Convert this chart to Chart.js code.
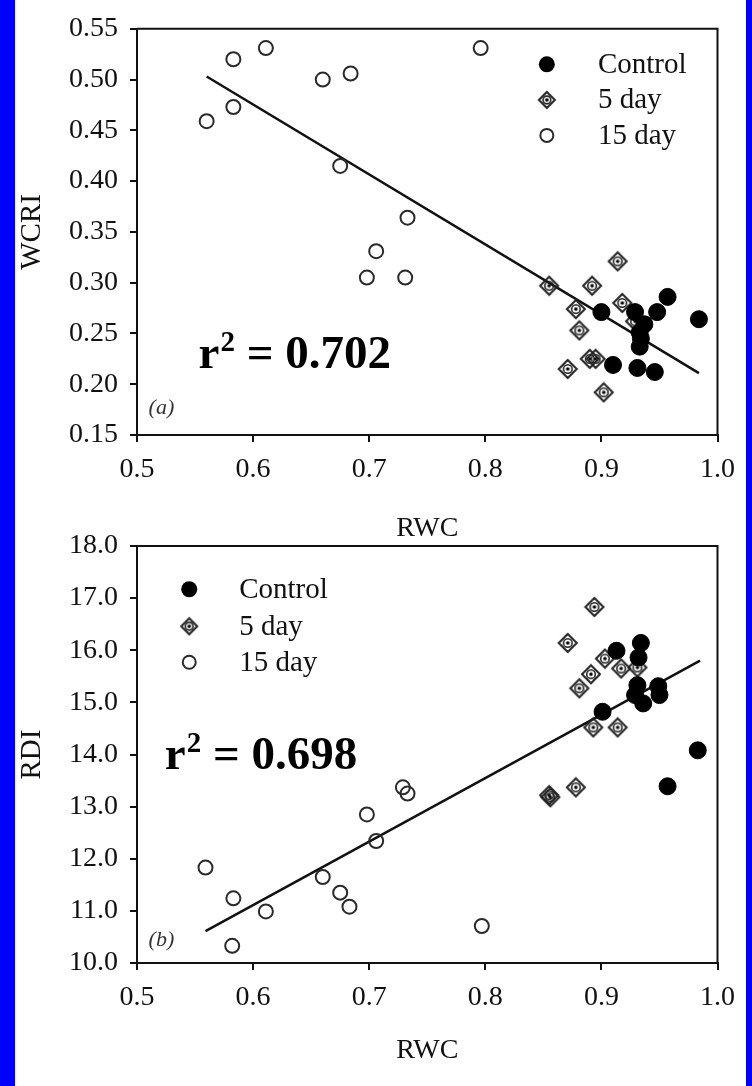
<!DOCTYPE html>
<html>
<head>
<meta charset="utf-8">
<script src="https://cdn.jsdelivr.net/npm/chart.js@4.4.1/dist/chart.umd.min.js"></script>
<style>
  html, body { margin: 0; padding: 0; background: #0000ff; }
  #page { position: absolute; left: 15px; top: 0; width: 731px; height: 1086px; background: #fff; }
  #chartA { position: absolute; left: 0; top: 0; }
  #chartB { position: absolute; left: 0; top: 515px; }
</style>
</head>
<body>
<div id="page">
  <canvas id="chartA" width="731" height="545"></canvas>
  <canvas id="chartB" width="731" height="571"></canvas>
</div>
<script>
// panel (a): WCRI vs RWC
const rwcControlA = [0.900, 0.929, 0.948, 0.957, 0.984, 0.937, 0.933, 0.934, 0.933, 0.910, 0.931, 0.946]
const wcriControlA = [0.271, 0.271, 0.271, 0.286, 0.264, 0.259, 0.251, 0.245, 0.237, 0.219, 0.216, 0.212]
const rwc5dayA = [0.914, 0.855, 0.892, 0.878, 0.918, 0.881, 0.929, 0.890, 0.895, 0.871, 0.902]
const wcri5dayA = [0.321, 0.297, 0.297, 0.274, 0.280, 0.253, 0.262, 0.225, 0.225, 0.215, 0.192]
const rwc15dayA = [0.560, 0.583, 0.583, 0.611, 0.660, 0.684, 0.675, 0.733, 0.706, 0.698, 0.731, 0.796]
const wcri15dayA = [0.459, 0.520, 0.473, 0.531, 0.500, 0.506, 0.415, 0.364, 0.331, 0.305, 0.305, 0.531]
const fitRwcA = [0.560, 0.984]
const fitWcriA = [0.503, 0.211]

// panel (b): RDI vs RWC
const rwcControlB = [0.913, 0.934, 0.932, 0.931, 0.929, 0.936, 0.949, 0.950, 0.901, 0.983, 0.957]
const rdiControlB = [15.99, 16.14, 15.86, 15.33, 15.14, 14.98, 15.31, 15.14, 14.82, 14.08, 13.39]
const rwc5dayB = [0.894, 0.871, 0.903, 0.891, 0.881, 0.917, 0.931, 0.893, 0.914, 0.878, 0.855, 0.856]
const rdi5dayB = [16.83, 16.14, 15.84, 15.54, 15.27, 15.65, 15.67, 14.52, 14.52, 13.37, 13.22, 13.18]
const rwc15dayB = [0.559, 0.583, 0.582, 0.611, 0.660, 0.675, 0.683, 0.698, 0.706, 0.729, 0.733, 0.797]
const rdi15dayB = [11.83, 11.24, 10.33, 10.99, 11.65, 11.35, 11.08, 12.85, 12.34, 13.37, 13.25, 10.71]
const fitRwcB = [0.559, 0.985]
const fitRdiB = [10.61, 15.80]

const seriesNames = ["Control", "5 day", "15 day"]
const r2A = "0.702"
const r2B = "0.698"

const SERIF = '"Liberation Serif", "Times New Roman", serif'
const INK = "#111"

const pts = (xs, ys) => xs.map((x, i) => ({ x: x, y: ys[i] }))

// 5 day marker: diamond with a ring and a dot inside
function makeDiamond(h) {
    const s = 2 * h + 4, m = s / 2
    const c = document.createElement("canvas")
    c.width = s
    c.height = s
    const g = c.getContext("2d")
    g.strokeStyle = "#222"
    g.lineWidth = 2
    g.beginPath()
    g.moveTo(m, m - h); g.lineTo(m + h, m); g.lineTo(m, m + h); g.lineTo(m - h, m)
    g.closePath()
    g.stroke()
    g.beginPath()
    g.arc(m, m, h * 0.48, 0, 2 * Math.PI)
    g.lineWidth = 1.6
    g.stroke()
    g.beginPath()
    g.arc(m, m, 1.8, 0, 2 * Math.PI)
    g.fillStyle = "#000"
    g.fill()
    return c
}
const diamond = makeDiamond(9)
const diamondSmall = makeDiamond(8)

const controlStyle = { pointStyle: "circle", pointRadius: 8.5, backgroundColor: "#000", borderColor: "#000", borderWidth: 1 }
const fiveStyle = { pointStyle: diamond, pointRadius: 10 }
const fifteenStyle = { pointStyle: "circle", pointRadius: 7, backgroundColor: "rgba(0,0,0,0)", borderColor: "#2a2a2a", borderWidth: 2 }

function drawMarker(ctx, kind, x, y) {
    if (kind === 0) {
        ctx.beginPath(); ctx.arc(x, y, 8, 0, 2 * Math.PI)
        ctx.fillStyle = "#000"; ctx.fill()
    } else if (kind === 1) {
        ctx.drawImage(diamondSmall, x - diamondSmall.width / 2, y - diamondSmall.height / 2)
    } else {
        ctx.beginPath(); ctx.arc(x, y, 6.5, 0, 2 * Math.PI)
        ctx.strokeStyle = "#2a2a2a"; ctx.lineWidth = 2; ctx.stroke()
    }
}

// frame, panel tag, r2 and legend
const overlay = {
    id: "overlay",
    afterDraw(chart, args, o) {
        const { ctx, chartArea: a, scales: { x, y } } = chart
        ctx.save()
        ctx.strokeStyle = INK
        ctx.lineWidth = 2
        ctx.beginPath()
        ctx.moveTo(a.left, a.top); ctx.lineTo(a.right, a.top); ctx.lineTo(a.right, a.bottom)
        ctx.stroke()

        ctx.fillStyle = "#333"
        ctx.textAlign = "left"
        ctx.textBaseline = "middle"
        ctx.font = "italic 22px " + SERIF
        ctx.fillText(o.tag, x.getPixelForValue(o.tagAt[0]), y.getPixelForValue(o.tagAt[1]))

        // r^2 label
        let px = x.getPixelForValue(o.r2At[0])
        const py = y.getPixelForValue(o.r2At[1])
        ctx.fillStyle = "#000"
        ctx.textBaseline = "alphabetic"
        ctx.font = "bold 47px " + SERIF
        ctx.fillText("r", px, py)
        px += ctx.measureText("r").width + 1
        ctx.font = "bold 29px " + SERIF
        ctx.fillText("2", px, py - 17)
        px += ctx.measureText("2").width
        ctx.font = "bold 47px " + SERIF
        ctx.fillText(" = " + o.r2, px, py)

        // legend
        const mx = x.getPixelForValue(o.legendX[0])
        const tx = x.getPixelForValue(o.legendX[1])
        ctx.font = "29px " + SERIF
        ctx.textBaseline = "middle"
        seriesNames.forEach((name, i) => {
            const ly = y.getPixelForValue(o.legendY[i])
            drawMarker(ctx, i, mx, ly)
            ctx.fillStyle = INK
            ctx.fillText(name, tx, ly + 1)
        })
        ctx.restore()
    },
}

function axisX(height, titlePad) {
    return {
        type: "linear", min: 0.5, max: 1.0,
        afterFit: (s) => { s.height = height },
        ticks: { stepSize: 0.1, autoSkip: false, maxRotation: 0, padding: 11, color: INK,
                 font: { family: SERIF, size: 28 }, callback: (v) => v.toFixed(1) },
        grid: { drawOnChartArea: false, drawTicks: true, tickLength: 7, color: INK, lineWidth: 2 },
        border: { display: true, color: INK, width: 2 },
        title: { display: true, text: "RWC", color: INK, font: { family: SERIF, size: 28 },
                 padding: { top: 0, bottom: titlePad } },
    }
}

function axisY(label, min, max, step, digits) {
    return {
        type: "linear", min: min, max: max,
        afterFit: (s) => { s.width = 122 },
        ticks: { stepSize: step, autoSkip: false, padding: 12, color: INK,
                 font: { family: SERIF, size: 28 }, callback: (v) => v.toFixed(digits) },
        grid: { drawOnChartArea: false, drawTicks: true, tickLength: 7, color: INK, lineWidth: 2 },
        border: { display: true, color: INK, width: 2 },
        title: { display: true, text: label, color: INK, font: { family: SERIF, size: 29 },
                 padding: { top: 0, bottom: 0 } },
    }
}

function datasets(c, f5, f15, fx, fy) {
    return [
        Object.assign({ label: seriesNames[0], data: c, order: 1 }, controlStyle),
        Object.assign({ label: seriesNames[1], data: f5, order: 2 }, fiveStyle),
        Object.assign({ label: seriesNames[2], data: f15, order: 3 }, fifteenStyle),
        { type: "line", label: "fit", data: pts(fx, fy), borderColor: "#111", borderWidth: 2.5,
          pointRadius: 0, fill: false, order: 4 },
    ]
}

var ctxA = document.getElementById("chartA").getContext("2d")
var chartA = new Chart(ctxA, {
    type: "scatter",
    data: {
        datasets: datasets(pts(rwcControlA, wcriControlA), pts(rwc5dayA, wcri5dayA),
                           pts(rwc15dayA, wcri15dayA), fitRwcA, fitWcriA),
    },
    options: {
        responsive: false,
        animation: false,
        layout: { padding: { top: 19, right: 28, left: 0, bottom: 0 } },
        plugins: {
            legend: { display: false },
            tooltip: { enabled: false },
            overlay: { tag: "(a)", tagAt: [0.510, 0.176], r2: r2A, r2At: [0.553, 0.2157],
                       legendX: [0.853, 0.897], legendY: [0.515, 0.480, 0.445] },
        },
        scales: { x: axisX(110, 0), y: axisY("WCRI", 0.15, 0.55, 0.05, 2) },
    },
    plugins: [overlay],
})

var ctxB = document.getElementById("chartB").getContext("2d")
var chartB = new Chart(ctxB, {
    type: "scatter",
    data: {
        datasets: datasets(pts(rwcControlB, rdiControlB), pts(rwc5dayB, rdi5dayB),
                           pts(rwc15dayB, rdi15dayB), fitRwcB, fitRdiB),
    },
    options: {
        responsive: false,
        animation: false,
        layout: { padding: { top: 31, right: 28, left: 0, bottom: 0 } },
        plugins: {
            legend: { display: false },
            tooltip: { enabled: false },
            overlay: { tag: "(b)", tagAt: [0.510, 10.44], r2: r2B, r2At: [0.524, 13.72],
                       legendX: [0.545, 0.588], legendY: [17.17, 16.46, 15.77] },
        },
        scales: { x: axisX(123, 19), y: axisY("RDI", 10, 18, 1, 1) },
    },
    plugins: [overlay],
})
</script>
</body>
</html>
